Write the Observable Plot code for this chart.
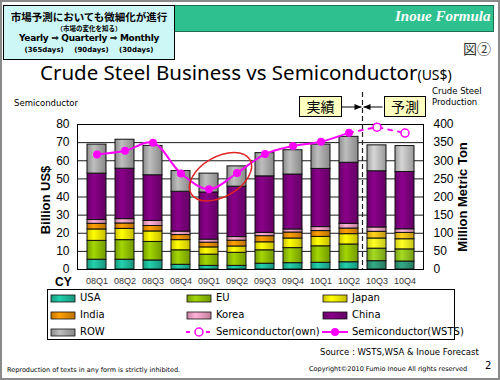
<!DOCTYPE html>
<html><head><meta charset="utf-8">
<script src="https://cdn.jsdelivr.net/npm/d3@7"></script>
<script src="https://cdn.jsdelivr.net/npm/@observablehq/plot@0.6"></script>
<style>
body{margin:0;background:#fff;}
#page{position:relative;width:500px;height:380px;overflow:hidden;background:#fff;font-family:"Noto Sans","DejaVu Sans",sans-serif;color:#000;}
.abs{position:absolute;white-space:nowrap;}
#chart{position:absolute;left:0;top:0;}
.lg{position:absolute;font-family:"DejaVu Sans",sans-serif;font-size:10px;line-height:12px;display:flex;align-items:center;gap:4px;}
.bt{position:absolute;left:0;width:170px;text-align:center;font-weight:bold;white-space:nowrap;}
</style></head><body>
<div id="page">
  <svg width="0" height="0" style="position:absolute"><defs id="grads"></defs></svg>
  <div class="abs" style="left:0;top:0;width:496px;height:376px;border:2px solid #8a8a8a;"></div>
  <div class="abs" style="left:10px;top:5px;width:482px;height:25px;background:#2ec08e;border:1px solid #1d6e55;"></div>
  <div class="abs" style="left:395px;top:8px;width:95px;text-align:right;font-family:'Liberation Serif',serif;font-weight:bold;font-style:italic;font-size:15px;color:#fff;">Inoue Formula</div>
  <div class="abs" style="left:3px;top:5px;width:170px;height:53px;background:#cdf7f7;border:1.5px solid #000;">
    <div class="bt" style="top:5px;font-family:'Noto Sans CJK JP',sans-serif;font-size:10.5px;line-height:12px;">市場予測においても微細化が進行</div>
    <div class="bt" style="top:18px;font-family:'Noto Sans CJK JP',sans-serif;font-size:6.5px;line-height:8px;">（市場の変化を知る）</div>
    <div class="bt" style="top:27px;font-family:'DejaVu Sans',sans-serif;font-size:9px;line-height:11px;letter-spacing:-0.3px;">Yearly ⇒ Quarterly ⇒ Monthly</div>
    <div class="bt" style="top:40px;font-family:'DejaVu Sans',sans-serif;font-size:7px;line-height:9px;word-spacing:8px;">(365days) (90days) (30days)</div>
  </div>
  <div class="abs" style="left:463px;top:38px;font-family:'Noto Sans CJK JP',sans-serif;font-size:14px;color:#333;">図②</div>
  <div class="abs" style="left:40px;top:58px;font-size:20.5px;">Crude Steel Business vs Semiconductor<span style="font-size:14px;">(US$)</span></div>
  <div class="abs" style="left:14px;top:98px;font-family:'DejaVu Sans',sans-serif;font-size:8.5px;">Semiconductor</div>
  <div class="abs" style="left:432px;top:86px;font-family:'DejaVu Sans',sans-serif;font-size:8.5px;line-height:11px;">Crude Steel<br>Production</div>
  <div id="lab-left" class="abs" style="left:45px;top:200px;font-family:'Liberation Sans',sans-serif;font-weight:bold;font-size:13px;transform:translate(-50%,-50%) rotate(-90deg);">Billion US$</div>
  <div id="lab-right" class="abs" style="left:462px;top:197px;font-family:'Liberation Sans',sans-serif;font-weight:bold;font-size:13px;transform:translate(-50%,-50%) rotate(-90deg);">Million Metric Ton</div>
  <div class="abs" style="left:55px;top:276px;font-family:'Liberation Sans',sans-serif;font-weight:bold;font-size:12px;line-height:13px;">CY</div>
  <div id="chart"></div>
  <div id="box-actual" class="abs" style="left:299px;top:96px;width:41px;height:19px;background:#ffffc0;border:1px solid #000;text-align:center;font-family:'Noto Sans CJK JP',sans-serif;font-size:14px;line-height:19px;">実績</div>
  <div id="box-fc" class="abs" style="left:384px;top:96px;width:40px;height:19px;background:#ffffc0;border:1px solid #000;text-align:center;font-family:'Noto Sans CJK JP',sans-serif;font-size:14px;line-height:19px;">予測</div>
  <div id="legend" class="abs" style="left:47px;top:289px;width:406px;height:49px;border:1px solid #000;"></div>
  <div class="abs" style="left:320px;top:347px;font-family:'DejaVu Sans',sans-serif;font-size:8.5px;">Source : WSTS,WSA &amp; Inoue Forecast</div>
  <div class="abs" style="left:7px;top:366px;font-family:'DejaVu Sans',sans-serif;font-size:6.5px;">Reproduction of texts in any form is strictly inhibited.</div>
  <div class="abs" style="left:309px;top:365px;font-family:'DejaVu Sans',sans-serif;font-size:6.5px;">Copyright©2010 Fumio Inoue All rights reserved</div>
  <div class="abs" style="left:485px;top:360px;font-family:'DejaVu Sans',sans-serif;font-size:10px;">2</div>
</div>
<script>
// ---- data ----
const quarters = ["08Q1","08Q2","08Q3","08Q4","09Q1","09Q2","09Q3","09Q4","10Q1","10Q2","10Q3","10Q4"];
const forecastQuarters = ["10Q3","10Q4"];
const regions = ["USA","EU","Japan","India","Korea","China","ROW"];
const usa   = [27, 27, 25, 13, 10, 10, 16, 17.5, 18.5, 20, 23, 22];
const eu    = [52, 54, 51, 40, 31, 36, 37, 41.5, 45.5, 49, 34.5, 33.5];
const japan = [31.5, 31, 29, 28, 20, 17.5, 22, 26.5, 26, 28.5, 28, 28];
const india = [15.5, 15, 15, 14, 13, 16, 17, 16.5, 16, 15.5, 18.5, 17.5];
const korea = [10.5, 12, 14, 9.5, 8.5, 10, 9, 8.5, 11, 13, 12, 10];
const china = [128, 139, 126, 110, 130, 139, 156, 151.5, 160.5, 168.5, 155, 158];
const row   = [80, 80, 81, 57, 52, 56, 64, 67, 67, 71.5, 71.5, 71.5];
const semiWSTSQuarters = ["08Q1","08Q2","08Q3","08Q4","09Q1","09Q2","09Q3","09Q4","10Q1","10Q2"];
const semiWSTS = [63.5, 65.5, 70, 53, 44.3, 53.2, 63.7, 68.2, 70.5, 75.5];
const semiOwnQuarters = ["10Q2","10Q3","10Q4"];
const semiOwn = [75.5, 78.5, 75.3];
const leftTicks = [0,10,20,30,40,50,60,70,80];
const rightTicks = [0,50,100,150,200,250,300,350,400];
const actualColors   = {USA:"#1fbf9e", EU:"#94c400", Japan:"#fff200", India:"#f39200", Korea:"#f6a2c6", China:"#7e007e", ROW:"#aeaeae"};
const forecastColors = {USA:"#2f9b7a", EU:"#98c81e", Japan:"#ffff22", India:"#f8c21a", Korea:"#f6aac8", China:"#810081", ROW:"#c4c4c4"};
const semiColor = "#ff00ff";
const ellipseColor = "#e02424";

const series = {USA:usa, EU:eu, Japan:japan, India:india, Korea:korea, China:china, ROW:row};

// gradients for a slight 3D look
const defs = d3.select("#grads");
function addGrad(id, c){
  const base = d3.color(c);
  const g = defs.append("linearGradient").attr("id", id).attr("x1","0").attr("x2","1").attr("y1","0").attr("y2","0");
  g.append("stop").attr("offset","0").attr("stop-color", base.darker(0.6));
  g.append("stop").attr("offset","0.35").attr("stop-color", base.brighter(0.25));
  g.append("stop").attr("offset","1").attr("stop-color", base.darker(0.7));
}
regions.forEach(r => { addGrad("ga-"+r, actualColors[r]); addGrad("gf-"+r, forecastColors[r]); });

const rows = [];
regions.forEach(r => quarters.forEach((q, i) => {
  const fc = forecastQuarters.includes(q);
  rows.push({quarter:q, region:r, value:series[r][i], fill:(fc ? "url(#gf-" : "url(#ga-") + r + ")"});
}));
const wsts = semiWSTSQuarters.map((q,i)=>({quarter:q, v:semiWSTS[i]}));
const own = semiOwnQuarters.map((q,i)=>({quarter:q, v:semiOwn[i]}));
const S = 5; // right axis units per left axis unit

const plot = Plot.plot({
  width: 500, height: 380,
  marginLeft: 77, marginRight: 77, marginTop: 124, marginBottom: 111,
  style: {background:"transparent", fontFamily:"'Liberation Sans', Arial, sans-serif"},
  x: {domain: quarters, padding: 0.33, label: null},
  y: {domain: [0, 400], label: null},
  color: {type: "identity"},
  marks: [
    Plot.ruleY(rightTicks, {stroke:"#1a1a1a", strokeWidth:1}),
    Plot.barY(rows, {x:"quarter", y:"value", z:"region", fill:"fill", stroke:"#111", strokeWidth:1}),
    Plot.frame({stroke:"#000", strokeWidth:1}),
    Plot.axisX({tickSize:0, tickPadding:8, fontSize:9, fill:"#333", label:null}),
    Plot.axisY({ticks: rightTicks, anchor:"left", tickSize:0, tickPadding:8, tickFormat: d => d / S, fontSize:12, label:null}),
    Plot.axisY({ticks: rightTicks, anchor:"right", tickSize:0, tickPadding:10, fontSize:12, label:null}),
    Plot.line(wsts, {x:"quarter", y: d => d.v * S, stroke:semiColor, strokeWidth:2, curve:"catmull-rom"}),
    Plot.dot(wsts, {x:"quarter", y: d => d.v * S, fill:semiColor, r:4}),
    Plot.line(own, {x:"quarter", y: d => d.v * S, stroke:semiColor, strokeWidth:2, strokeDasharray:"4,6"}),
    Plot.dot(own.slice(1), {x:"quarter", y: d => d.v * S, fill:"#fff", stroke:semiColor, strokeWidth:1.5, r:4})
  ]
});
document.getElementById("chart").appendChild(plot);

// annotations using the plot's scales
const xs = plot.scale("x"), ys = plot.scale("y");
const cx = q => xs.apply(q) + xs.bandwidth / 2;
const svg = d3.select(plot);
// boundary between actual and forecast
const bx = (xs.apply("10Q2") + xs.bandwidth + xs.apply("10Q3")) / 2;
const yTop = ys.apply(400), yBot = ys.apply(0);
svg.append("line").attr("x1", bx).attr("x2", bx).attr("y1", yTop - 32).attr("y2", yBot)
  .attr("stroke", "#222").attr("stroke-width", 1.2).attr("stroke-dasharray", "5,3");
// arrows
const ay = yTop - 17;
const arrow = (x1, x2) => {
  svg.append("line").attr("x1", x1).attr("x2", x2).attr("y1", ay).attr("y2", ay).attr("stroke", "#000").attr("stroke-width", 1);
  const d = Math.sign(x2 - x1);
  svg.append("path").attr("d", `M${x2},${ay}L${x2 - d*7},${ay-3}L${x2 - d*7},${ay+3}Z`).attr("fill", "#000");
};
arrow(bx - 22, bx - 1);
arrow(bx + 20, bx + 1);
// red ellipse around the 2009 dip
const p1 = [cx("09Q1"), ys.apply(semiWSTS[4] * S)], p2 = [cx("09Q2"), ys.apply(semiWSTS[5] * S)];
const ex = (p1[0] + p2[0]) / 2 - 2, ey = (p1[1] + p2[1]) / 2 - 4;
const ang = Math.atan2(p2[1] - p1[1], p2[0] - p1[0]) * 180 / Math.PI;
svg.append("ellipse").attr("cx", ex).attr("cy", ey).attr("rx", 34).attr("ry", 20)
  .attr("transform", `rotate(${ang},${ex},${ey})`).attr("fill", "none").attr("stroke", ellipseColor).attr("stroke-width", 1.5);

// legend
const legend = d3.select("#legend");
const colX = [2, 138, 274], rowY = [2, 19, 36];
const items = [
  {name:"USA", type:"bar"}, {name:"EU", type:"bar"}, {name:"Japan", type:"bar"},
  {name:"India", type:"bar"}, {name:"Korea", type:"bar"}, {name:"China", type:"bar"},
  {name:"ROW", type:"bar"}, {name:"Semiconductor(own)", type:"own"}, {name:"Semiconductor(WSTS)", type:"wsts"}
];
items.forEach((it, i) => {
  const el = legend.append("div").attr("class", "lg").style("left", colX[i % 3] + "px").style("top", rowY[Math.floor(i / 3)] + "px");
  const sw = el.append("svg").attr("width", 26).attr("height", 12);
  if (it.type === "bar") {
    sw.append("rect").attr("x", 1).attr("y", 3).attr("width", 24).attr("height", 7)
      .attr("fill", `url(#ga-${it.name})`).attr("stroke", "#111").attr("stroke-width", 0.8);
  } else if (it.type === "own") {
    sw.append("line").attr("x1", 0).attr("x2", 26).attr("y1", 6).attr("y2", 6).attr("stroke", semiColor).attr("stroke-width", 2).attr("stroke-dasharray", "4,6");
    sw.append("circle").attr("cx", 13).attr("cy", 6).attr("r", 4).attr("fill", "#fff").attr("stroke", semiColor).attr("stroke-width", 1.5);
  } else {
    sw.append("line").attr("x1", 0).attr("x2", 26).attr("y1", 6).attr("y2", 6).attr("stroke", semiColor).attr("stroke-width", 2);
    sw.append("circle").attr("cx", 13).attr("cy", 6).attr("r", 4).attr("fill", semiColor);
  }
  el.append("span").text(it.name);
});
</script>
</body></html>
